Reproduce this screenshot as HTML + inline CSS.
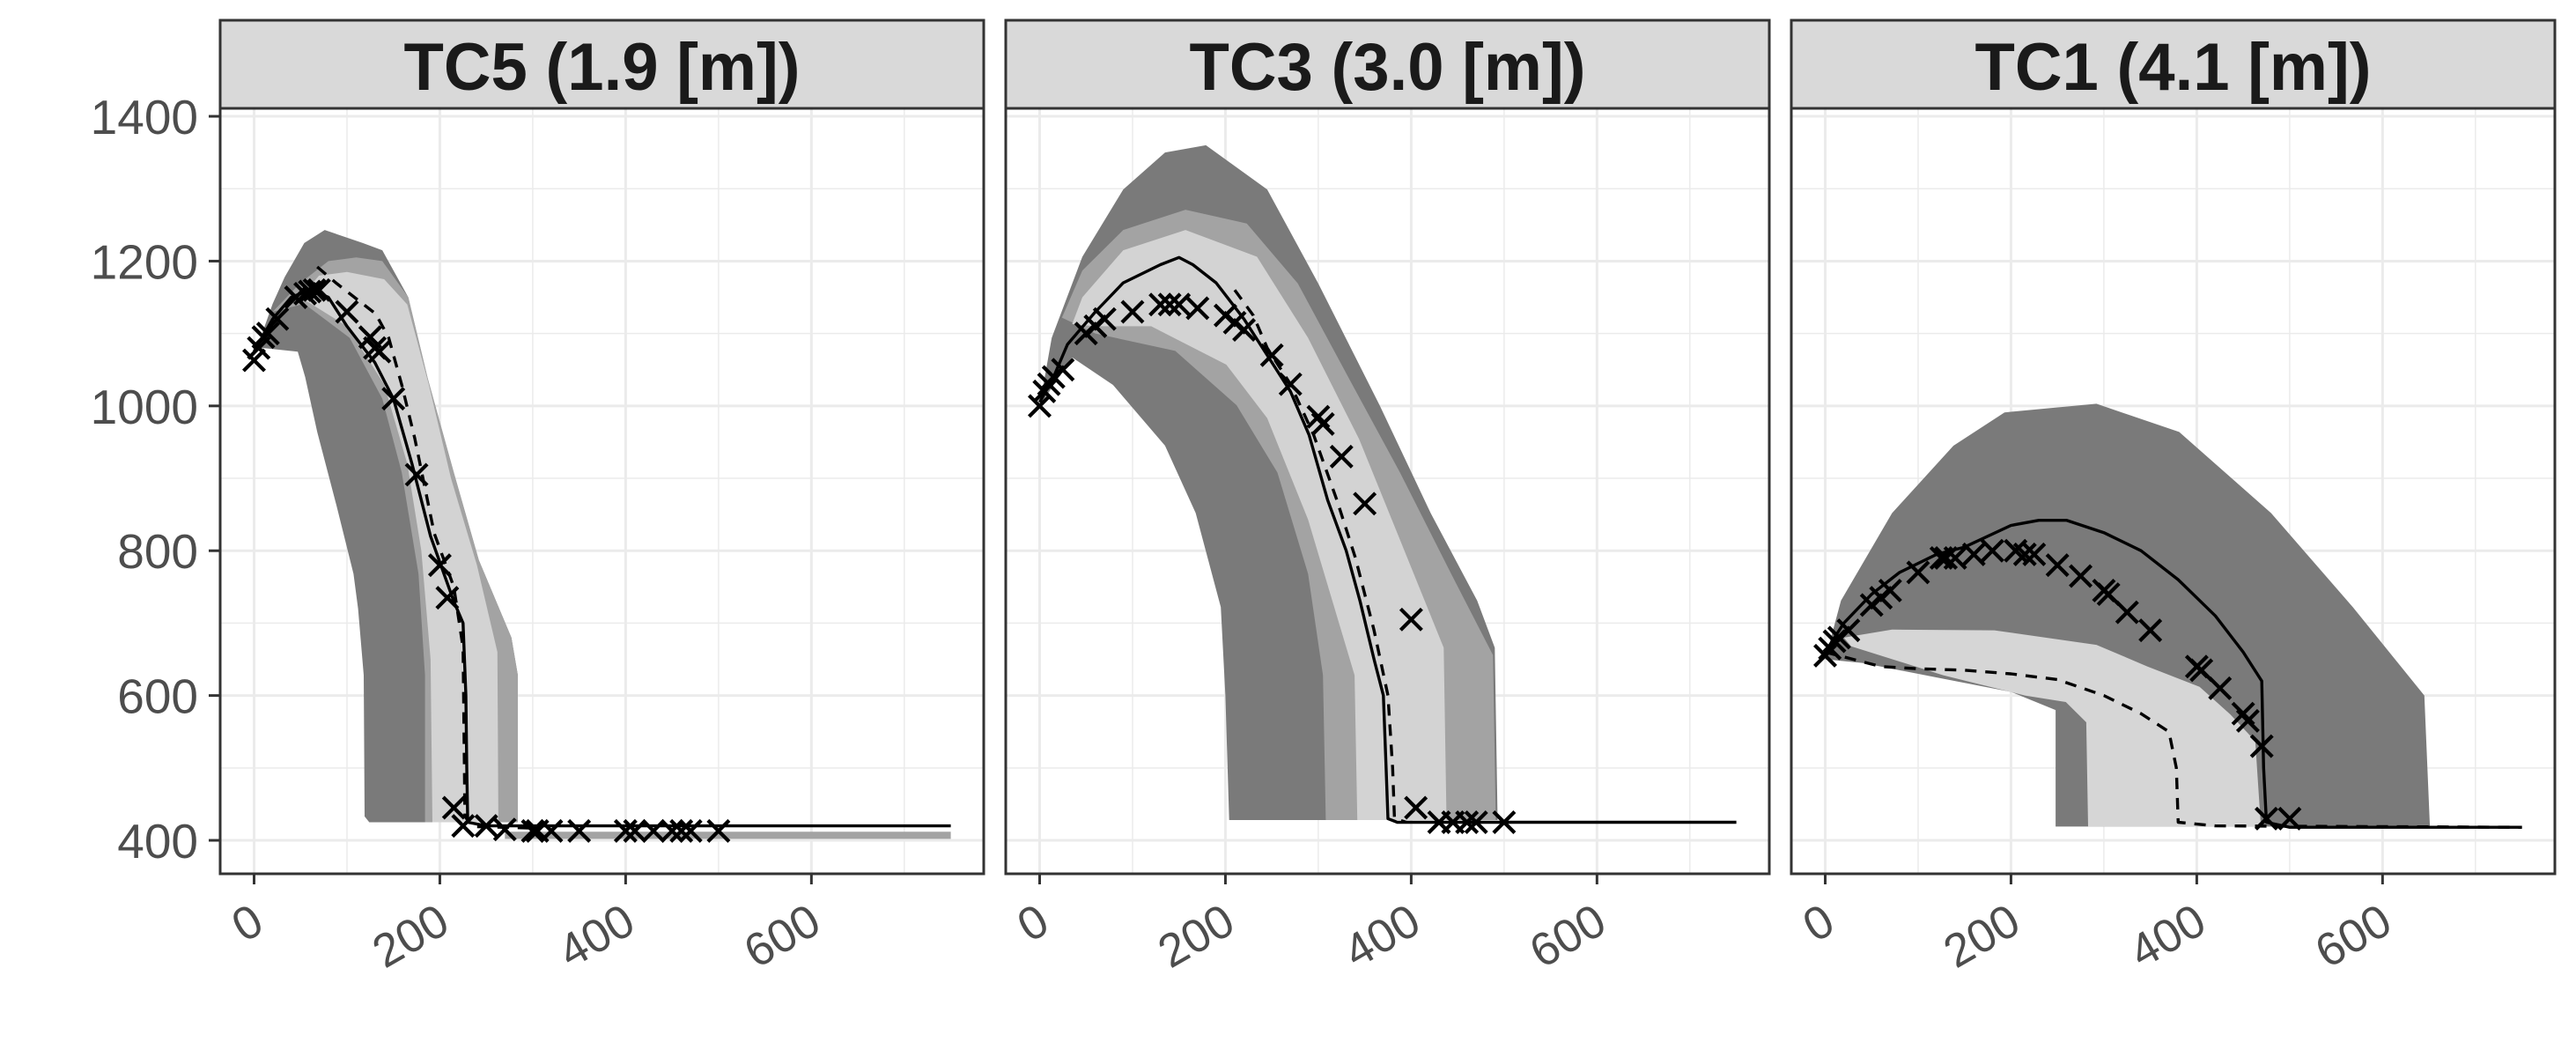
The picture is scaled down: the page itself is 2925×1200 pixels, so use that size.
<!DOCTYPE html>
<html><head><meta charset="utf-8"><style>
html,body{margin:0;padding:0;background:#fff;}
svg{display:block;}
</style></head><body>
<svg id="chart" width="2925" height="1200" xmlns="http://www.w3.org/2000/svg"></svg>
<script>
// ---- data ----
const panelTitles = ["TC5 (1.9 [m])", "TC3 (3.0 [m])", "TC1 (4.1 [m])"];
const xTicks = [0, 200, 400, 600];
const yTicks = [400, 600, 800, 1000, 1200, 1400];

// TC5
const tc5Dark = [[2,1076],[20,1141],[33,1178],[54,1225],[76,1243],[117,1225],[138,1215],[166,1150],[187,1038],[215,908],[242,787],[277,680],[284,628],[284,425],[124,425],[119,433],[118,628],[112,720],[107,768],[89,861],[68,964],[55,1040],[47,1075],[10,1080]];
const tc5Mid = [[20,1130],[50,1170],[80,1200],[110,1205],[138,1200],[166,1150],[187,1038],[215,908],[242,787],[277,680],[284,628],[284,425],[184,425],[184,628],[177,768],[159,908],[138,1010],[103,1094],[54,1141]];
const tc5Light = [[50,1150],[70,1180],[100,1185],[140,1175],[165,1140],[188,1030],[212,900],[240,780],[262,660],[263,425],[192,425],[190,650],[180,800],[165,920],[140,1030],[100,1110]];
const tc5Floor = [[270,402],[750,402],[750,412],[270,412]];
const tc5Solid = [[0,1075],[20,1120],[40,1150],[60,1160],[80,1150],[100,1110],[130,1060],[150,1010],[170,920],[190,820],[215,730],[225,700],[228,600],[229,500],[230,425],[250,420],[750,420]];
const tc5Dash = [[68,1192],[89,1169],[131,1127],[145,1094],[159,1029],[173,955],[194,824],[215,750],[225,666],[227,433],[235,419],[300,417]];
const tc5Obs = [[0,1063],[5,1080],[10,1095],[15,1100],[25,1120],[45,1150],[55,1155],[60,1158],[65,1160],[70,1160],[100,1130],[125,1095],[130,1080],[135,1075],[150,1010],[175,905],[200,780],[208,735],[215,445],[225,420],[250,420],[270,415],[300,413],[305,413],[320,413],[350,413],[400,413],[410,413],[430,413],[450,413],[460,413],[470,413],[500,413]];

// TC3
const tc3Dark = [[0,1000],[13,1094],[46,1206],[90,1299],[135,1350],[179,1360],[245,1299],[300,1169],[366,1001],[421,852],[471,731],[490,666],[493,428],[204,428],[200,600],[195,722],[168,852],[135,945],[79,1029],[35,1067]];
const tc3Mid = [[24,1122],[46,1187],[90,1243],[157,1271],[223,1252],[278,1169],[333,1038],[388,908],[443,768],[488,656],[491,428],[308,428],[305,628],[289,768],[256,908],[212,1001],[146,1076],[60,1100]];
const tc3Light = [[35,1113],[46,1150],[90,1215],[157,1243],[234,1206],[289,1094],[344,954],[388,815],[435,666],[438,428],[342,428],[339,628],[289,843],[245,983],[201,1057],[120,1110],[60,1110]];
const tc3Solid = [[0,1005],[15,1040],[30,1085],[60,1130],[90,1170],[130,1195],[150,1205],[165,1195],[190,1170],[220,1120],[250,1060],[270,1020],[290,960],[310,870],[330,800],[345,730],[360,650],[370,600],[373,500],[375,430],[385,425],[750,425]];
const tc3Dash = [[210,1160],[230,1125],[245,1080],[270,1030],[295,960],[320,870],[340,790],[360,690],[375,600],[380,500],[382,430],[395,425]];
const tc3Obs = [[0,1000],[5,1020],[10,1030],[15,1040],[25,1050],[50,1100],[60,1110],[70,1120],[100,1130],[130,1140],[140,1140],[150,1140],[170,1135],[200,1125],[210,1115],[220,1105],[250,1070],[270,1030],[300,985],[305,975],[325,930],[350,865],[400,705],[405,445],[430,425],[445,425],[460,425],[470,425],[500,425]];

// TC1
const tc1Dark = [[0,650],[17,731],[72,852],[138,945],[193,991],[292,1003],[381,964],[480,852],[568,722],[645,600],[651,419],[248,419],[248,580],[200,605],[120,625],[40,645]];
const tc1Light = [[20,680],[72,691],[182,690],[292,670],[347,640],[403,612],[436,574],[463,537],[469,419],[283,419],[281,563],[259,591],[215,600],[127,628],[28,668]];
const tc1Solid = [[0,660],[20,700],[50,740],[80,770],[120,795],[150,805],[200,835],[230,842],[260,842],[300,825],[340,800],[380,760],[420,710],[450,660],[470,620],[472,500],[475,425],[500,418],[750,418]];
const tc1Dash = [[0,660],[30,650],[60,640],[100,637],[150,635],[200,630],[250,622],[300,600],[340,575],[370,550],[378,500],[380,425],[420,420],[750,418]];
const tc1Obs = [[0,655],[5,665],[10,675],[15,680],[25,690],[50,725],[60,735],[70,745],[100,770],[125,790],[130,790],[140,790],[160,795],[180,800],[205,800],[215,795],[225,795],[250,780],[275,765],[300,745],[305,740],[325,715],[350,690],[400,640],[405,635],[425,610],[450,575],[455,565],[470,530],[475,430],[500,430]];

const panelBands = [
  [[tc5Dark,"#7a7a7a"],[tc5Mid,"#a3a3a3"],[tc5Light,"#d3d3d3"],[tc5Floor,"#a3a3a3"]],
  [[tc3Dark,"#7a7a7a"],[tc3Mid,"#a3a3a3"],[tc3Light,"#d3d3d3"]],
  [[tc1Dark,"#7a7a7a"],[tc1Light,"#d6d6d6"]]
];
const panelSolid = [tc5Solid, tc3Solid, tc1Solid];
const panelDash = [tc5Dash, tc3Dash, tc1Dash];
const panelObs = [tc5Obs, tc3Obs, tc1Obs];

// ---- layout ----
const NS = "http://www.w3.org/2000/svg";
const svg = document.getElementById("chart");
const panelLefts = [250, 1142, 2034];
const PW = 867, PT = 123, PB = 992, STRIP_TOP = 23;
const XMIN = -36.5, XMAX = 785.5, YMIN = 353.8, YMAX = 1411;
function mk(tag, attrs, parent){const e=document.createElementNS(NS,tag);for(const k in attrs)e.setAttribute(k,attrs[k]);(parent||svg).appendChild(e);return e;}
function xs(p, v){return panelLefts[p] + (v - XMIN) / (XMAX - XMIN) * PW;}
function ys(v){return PB - (v - YMIN) / (YMAX - YMIN) * (PB - PT);}
function pts(p, arr){return arr.map(d => xs(p,d[0]).toFixed(1)+","+ys(d[1]).toFixed(1)).join(" ");}

// y axis labels
yTicks.forEach(t => {
  const lab = mk("text",{x:225,y:ys(t)+20,"text-anchor":"end","font-size":55,fill:"#4d4d4d","font-family":"Liberation Sans, sans-serif"});
  
  
  lab.textContent = t;
  const tk = mk("line",{x1:237,x2:250,y1:ys(t),y2:ys(t),stroke:"#333",
    "stroke-width":3});
  
  
});

for (let p = 0; p < 3; p++) {
  const L = panelLefts[p];
  const g = mk("g",{});
  
  
  const clipId = "clip"+p;
  const cp = mk("clipPath",{id:clipId}, g);
  mk("rect",{x:L,y:PT,width:PW,height:PB-PT}, cp);
  for (let v = 100; v <= 700; v += 200) mk("line",{x1:xs(p,v),x2:xs(p,v),y1:PT,y2:PB,stroke:"#ebebeb","stroke-width":1.5},g);
  for (let v = 500; v <= 1300; v += 200) mk("line",{x1:L,x2:L+PW,y1:ys(v),y2:ys(v),stroke:"#ebebeb","stroke-width":1.5},g);
  xTicks.forEach(v => mk("line",{x1:xs(p,v),x2:xs(p,v),y1:PT,y2:PB,stroke:"#ebebeb","stroke-width":3},g));
  yTicks.forEach(v => mk("line",{x1:L,x2:L+PW,y1:ys(v),y2:ys(v),stroke:"#ebebeb","stroke-width":3},g));
  const dg = mk("g",{"clip-path":"url(#"+clipId+")"}, g);
  panelBands[p].forEach(b => {
    const poly = mk("polygon",{points:pts(p,b[0]),fill:b[1],"stroke-linejoin":"round"},dg);
    
    
  });
  const dl = mk("polyline",{points:pts(p,panelDash[p]),fill:"none",stroke:"#000","stroke-width":3.4,"stroke-dasharray":"13 10","stroke-linejoin":"round"},dg);
  
  
  const sl = mk("polyline",{points:pts(p,panelSolid[p]),fill:"none",stroke:"#000","stroke-width":3.4,"stroke-linejoin":"round"},dg);
  
  
  panelObs[p].forEach(d => {
    const cx = xs(p,d[0]), cy = ys(d[1]), r = 12;
    const m = mk("path",{d:`M${cx-r},${cy-r}L${cx+r},${cy+r}M${cx-r},${cy+r}L${cx+r},${cy-r}`,stroke:"#000","stroke-width":4.2,fill:"none"},dg);
    
    
  });
  mk("rect",{x:L,y:PT,width:PW,height:PB-PT,fill:"none",stroke:"#333","stroke-width":3},g);
  const st = mk("rect",{x:L,y:STRIP_TOP,width:PW,height:PT-STRIP_TOP,fill:"#d9d9d9",stroke:"#333","stroke-width":3},g);
  
  
  const tt = mk("text",{x:L+PW/2,y:102,"text-anchor":"middle","font-size":76,"font-weight":"bold",fill:"#1a1a1a","font-family":"Liberation Sans, sans-serif",textLength:450,lengthAdjust:"spacingAndGlyphs"},g);
  
  
  tt.textContent = panelTitles[p];
  xTicks.forEach(v => {
    const x = xs(p,v);
    const tk = mk("line",{x1:x,x2:x,y1:PB,y2:PB+12,stroke:"#333","stroke-width":3},g);
    
    
    const ax = x + 14, ay = 1056;
    const lab = mk("text",{x:ax,y:ay,"text-anchor":"end","font-size":53,fill:"#4d4d4d","font-family":"Liberation Sans, sans-serif",transform:`rotate(-30 ${ax} ${ay})`},g);
    
    
    lab.textContent = v;
  });
}
</script>
</body></html>
